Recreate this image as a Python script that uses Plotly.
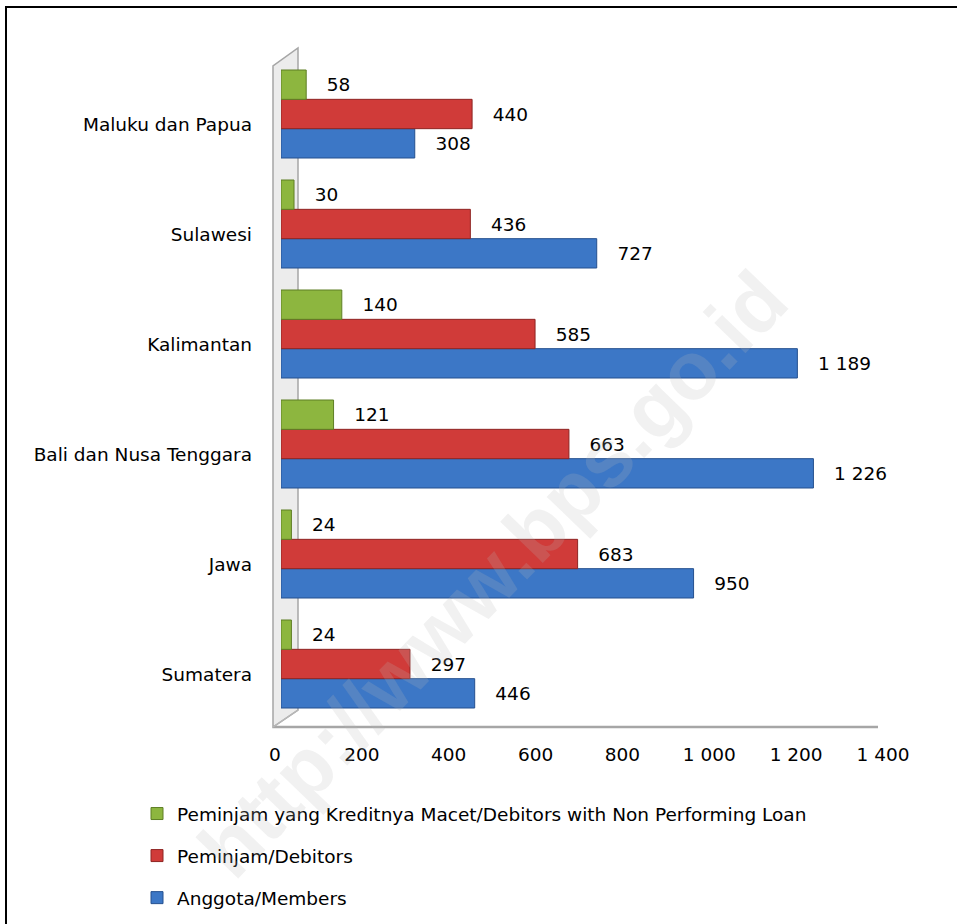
import plotly.graph_objects as go

# Regions, listed bottom to top as they appear on the category axis
regions = ["Sumatera", "Jawa", "Bali dan Nusa Tenggara", "Kalimantan", "Sulawesi", "Maluku dan Papua"]

members = [446, 950, 1226, 1189, 727, 308]
debitors = [297, 683, 663, 585, 436, 440]
npl_debitors = [24, 24, 121, 140, 30, 58]

name_members = "Anggota/Members"
name_debitors = "Peminjam/Debitors"
name_npl = "Peminjam yang Kreditnya Macet/Debitors with Non Performing Loan"

x_ticks = [0, 200, 400, 600, 800, 1000, 1200, 1400]

FONT = "DejaVu Sans"
FS = 18.5

# page geometry (pixels)
W_PX, H_PX = 957, 924
L, R, T, B = 281, 68, 59, 205
PW, PH = W_PX - L - R, H_PX - T - B


def px(x):
    return (x - L) / PW


def py(y):
    return (H_PX - B - y) / PH


# (name, values, fill, edge, legend position)
series = [
    (name_members, members, "#3c77c6", "#25508f", 3),
    (name_debitors, debitors, "#d03b39", "#8e2523", 2),
    (name_npl, npl_debitors, "#8db63f", "#5f7f25", 1),
]

fig = go.Figure()
for i, (name, vals, fill, edge, rank) in enumerate(series):
    fig.add_trace(go.Bar(
        y=regions, x=vals, name=name, orientation="h",
        legendgroup=f"g{i}", legendrank=rank,
        marker=dict(color=fill, line=dict(color=edge, width=1)),
        text=vals,
        texttemplate="\u00a0\u00a0\u00a0%{x:,d}",
        textposition="outside",
        textfont=dict(family=FONT, size=FS, color="#000000"),
        cliponaxis=False,
    ))

shapes = []
# left side wall of the chart box
wall = [(273, 727), (273, 66), (298, 48), (298, 710)]
path = "M " + " L ".join(f"{px(a):.5f},{py(b):.5f}" for a, b in wall) + " Z"
shapes.append(dict(type="path", xref="paper", yref="paper", path=path,
                   fillcolor="#ececec", line=dict(color="#a6a6a6", width=1.5), layer="below"))
# floor edges
shapes.append(dict(type="line", xref="paper", yref="paper",
                   x0=px(273), y0=py(727), x1=px(878), y1=py(727),
                   line=dict(color="#a6a6a6", width=2.5), layer="below"))
shapes.append(dict(type="line", xref="paper", yref="paper",
                   x0=px(273), y0=py(727), x1=px(298), y1=py(710),
                   line=dict(color="#b8b8b8", width=1.5), layer="below"))
# outer frame
shapes.append(dict(type="rect", xref="paper", yref="paper",
                   x0=px(6), y0=py(7), x1=px(1000), y1=py(1000),
                   line=dict(color="#000000", width=2), fillcolor="rgba(0,0,0,0)"))

fig.update_layout(
    width=W_PX, height=H_PX,
    margin=dict(l=L, r=R, t=T, b=B, autoexpand=False),
    paper_bgcolor="white", plot_bgcolor="white",
    barmode="group", bargap=0.2, bargroupgap=0.0,
    separators=". ",
    font=dict(family=FONT, size=FS, color="#000000"),
    shapes=shapes,
    showlegend=True,
    legend=dict(
        x=px(137), y=py(795), xanchor="left", yanchor="top",
        traceorder="grouped", tracegroupgap=15,
        font=dict(family=FONT, size=FS, color="#000000"),
        bgcolor="rgba(0,0,0,0)",
    ),
    annotations=[dict(
        text="<b>http://www.bps.go.id</b>", xref="paper", yref="paper",
        x=px(492), y=py(574), xanchor="center", yanchor="middle",
        textangle=-46, showarrow=False,
        font=dict(family="Liberation Sans", size=82, color="rgba(185,185,185,0.2)"),
    )],
)

fig.update_xaxes(
    range=[0, 1400], tickvals=x_ticks, tickformat=",d",
    showgrid=False, zeroline=False, showline=False, ticks="",
    ticklabelstandoff=22, ticklabelshift=-6,
)
fig.update_yaxes(
    showgrid=False, zeroline=False, showline=False, ticks="",
    ticklabelstandoff=28, ticklabelshift=11,
)

fig.write_html("out.html")
